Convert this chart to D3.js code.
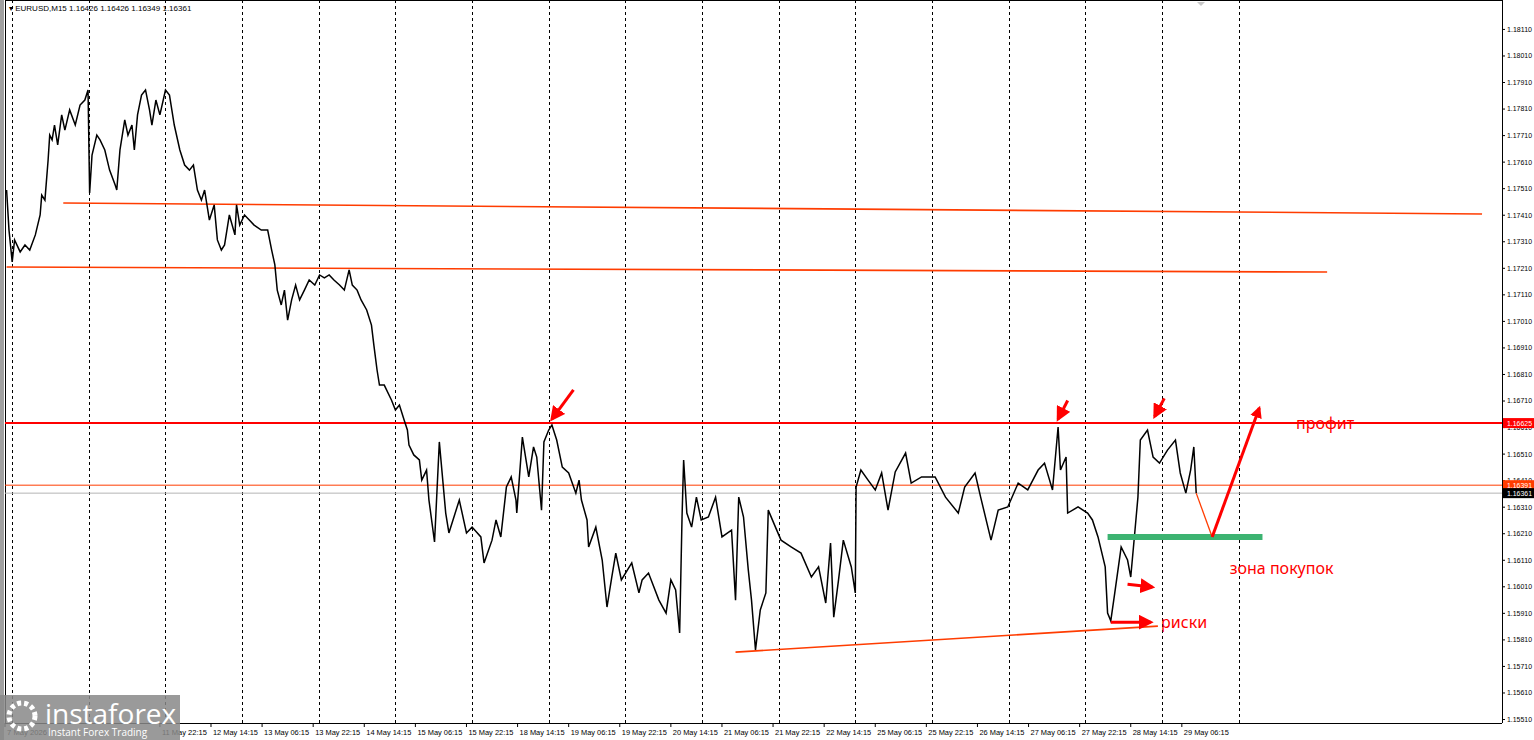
<!DOCTYPE html>
<html><head><meta charset="utf-8">
<script src="https://cdn.jsdelivr.net/npm/d3@7"></script>
<style>body{margin:0;background:#fff}svg{display:block}</style>
</head><body><svg id="c" width="1534" height="740"></svg>
<script>
const bars=[2,5,9,12,19,25,31,38,44,46,50,54,56,59,62,66,71,75,81,88,94,100,104,106,109,115,119,125,131,138,140,144,150,154,159,162,166,171,176,181,184,189,194,201,206,212,219,225,231,236,241,246,250,256,262,266,271,275,281,288,290,294,300,306,312,321,329,334,338,341,346,350,354,359,364,369,375,381,388,394,400,406,412,419,425,431,435,441,446,453,459,462,466,469,475,484,489,494,500,504,506,512,519,522,528,531,538,544,552,556,569,578,585,596,600,610,615,621,628,634,640,641,648,656,662,666,672,675,681,685,691,698,706,715,719,722,729,731,740,748,754,760,765,772,785,794,798,806,819,828,834,840,845,848,850,854,860,866,872,881,890,898,910,915,919,925,931,935,940,946,953,956,965,972,985,997,1010,1019,1028,1034,1038,1044,1050,1060,1065,1066,1072,1081,1090,1098,1106,1115,1128,1135,1148,1165,1178,1194,1202,1215,1222,1235,1244,1256,1269,1281,1294,1302,1312,1319,1322,1329,1331,1344,1356,1362,1369,1378,1381,1385,1390,1398,1406,1410,1415,1419,1422,1431,1438,1446,1456,1466,1472,1479,1485,1489,1492];
const prices=[1.17503,1.17352,1.17232,1.17315,1.17270,1.17296,1.17277,1.17334,1.17409,1.17484,1.17465,1.17616,1.17710,1.17692,1.17748,1.17673,1.17786,1.17729,1.17805,1.17748,1.17823,1.17842,1.17880,1.17492,1.17635,1.17710,1.17692,1.17654,1.17578,1.17522,1.17503,1.17654,1.17767,1.17710,1.17748,1.17654,1.17786,1.17861,1.17880,1.17805,1.17748,1.17842,1.17786,1.17880,1.17861,1.17748,1.17654,1.17597,1.17578,1.17597,1.17503,1.17465,1.17503,1.17390,1.17447,1.17315,1.17277,1.17296,1.17409,1.17334,1.17447,1.17371,1.17409,1.17390,1.17371,1.17352,1.17352,1.17277,1.17221,1.17126,1.17070,1.17126,1.17013,1.17089,1.17145,1.17089,1.17126,1.17164,1.17145,1.17183,1.17172,1.17183,1.17164,1.17145,1.17126,1.17202,1.17145,1.17126,1.17089,1.17051,1.16994,1.16919,1.16825,1.16768,1.16768,1.16712,1.16674,1.16693,1.16636,1.16599,1.16542,1.16505,1.16486,1.16410,1.16448,1.16335,1.16177,1.16554,1.16286,1.16211,1.16335,1.16211,1.16233,1.16196,1.16098,1.16184,1.16260,1.16196,1.16384,1.16422,1.16335,1.16286,1.16572,1.16422,1.16535,1.16497,1.16297,1.16554,1.16599,1.16618,1.16561,1.16459,1.16437,1.16361,1.16410,1.16335,1.16260,1.16158,1.16233,1.16109,1.15932,1.16045,1.16135,1.16034,1.16098,1.15985,1.16034,1.16060,1.15958,1.15909,1.16034,1.15996,1.15834,1.16271,1.16486,1.16286,1.16233,1.16346,1.16260,1.16271,1.16346,1.16196,1.16222,1.15958,1.16346,1.16271,1.16071,1.15958,1.15770,1.15921,1.15985,1.16297,1.16233,1.16184,1.16158,1.16135,1.16045,1.16083,1.15947,1.16173,1.15894,1.16034,1.16184,1.16083,1.15985,1.16384,1.16448,1.16410,1.16373,1.16437,1.16297,1.16441,1.16512,1.16399,1.16422,1.16422,1.16346,1.16286,1.16384,1.16437,1.16346,1.16184,1.16297,1.16309,1.16399,1.16373,1.16448,1.16474,1.16373,1.16610,1.16448,1.16497,1.16286,1.16309,1.16286,1.16260,1.16196,1.16083,1.15909,1.15880,1.15985,1.16158,1.16109,1.16045,1.16211,1.16346,1.16561,1.16599,1.16497,1.16474,1.16523,1.16561,1.16437,1.16361,1.16448,1.16535,1.16361];
const priceTicks=[1.18110,1.18010,1.17910,1.17810,1.17710,1.17610,1.17510,1.17410,1.17310,1.17210,1.17110,1.17010,1.16910,1.16810,1.16710,1.16610,1.16510,1.16410,1.16310,1.16210,1.16110,1.16010,1.15910,1.15810,1.15710,1.15610,1.15510];
const timeLabels=["7 May 2026","11 May 22:15","12 May 14:15","13 May 06:15","13 May 22:15","14 May 14:15","15 May 06:15","15 May 22:15","18 May 14:15","19 May 06:15","19 May 22:15","20 May 14:15","21 May 06:15","21 May 22:15","22 May 14:15","25 May 06:15","25 May 22:15","26 May 14:15","27 May 06:15","27 May 22:15","28 May 14:15","29 May 06:15"];
const timeLabelBars=[0,194,258,322,386,450,514,578,642,706,770,834,898,962,1026,1090,1154,1218,1282,1346,1410,1474];
const gridBars=[9,105,201,297,393,489,585,681,777,873,969,1065,1161,1257,1353,1449,1545];
const trendLines=[{b:[73,1850],p:[1.17454,1.17413]},{b:[2,1656],p:[1.17213,1.17194]},{b:[915,1444],p:[1.15762,1.15860]}];
const profitLevel=1.16625, bidLevel=1.16361, askLevel=1.16391, buyZone={b:[1381,1575],p:1.16196};
const projBars=[1492,1512,1571], projPrices=[1.16361,1.16196,1.16682];
const arrows=[{b:[712,685],p:[1.16750,1.16640]},{b:[1331,1319],p:[1.16710,1.16640]},{b:[1452,1440],p:[1.16718,1.16650]},{b:[1406,1437],p:[1.16018,1.16007]},{b:[1385,1435],p:[1.15875,1.15875]}];
const notes=[{t:"профит",b:1617,p:1.16625},{t:"зона покупок",b:1534,p:1.16080},{t:"риски",b:1448,p:1.15875}];

const svg=d3.select("#c");
const x=d3.scaleLinear().domain([0,1875]).range([5,1502]);
const y=d3.scaleLinear().domain([1.15495,1.18219]).range([723,0]);
const red="#ff0000", orange="#ff3c00";
const F="Liberation Sans, Arial, sans-serif";
svg.append("defs").html('<marker id="ah" viewBox="0 0 10 10" refX="8" refY="5" markerWidth="4" markerHeight="4" orient="auto"><path d="M0,0L10,5L0,10z" fill="#ff0000"/></marker><marker id="ah2" viewBox="0 0 10 10" refX="8" refY="5" markerWidth="5" markerHeight="5" orient="auto"><path d="M0,0L10,5L0,10z" fill="#ff0000"/></marker>');
svg.append("rect").attr("x",0).attr("y",0).attr("width",4).attr("height",740).attr("fill","#a0a0a0");
svg.append("line").attr("x1",5.5).attr("x2",5.5).attr("y1",0).attr("y2",723).attr("stroke","#000");
svg.append("line").attr("x1",5).attr("x2",1502).attr("y1",0.5).attr("y2",0.5).attr("stroke","#000");
svg.selectAll(".g").data(gridBars).join("line").attr("x1",d=>Math.round(x(d))+.5).attr("x2",d=>Math.round(x(d))+.5).attr("y1",0).attr("y2",723).attr("stroke","#000").attr("stroke-dasharray","3,3");
svg.append("line").attr("x1",5).attr("x2",1502).attr("y1",y(askLevel)).attr("y2",y(askLevel)).attr("stroke",orange).attr("stroke-width",1);
svg.append("line").attr("x1",5).attr("x2",1502).attr("y1",y(bidLevel)).attr("y2",y(bidLevel)).attr("stroke","#b4b4b4").attr("stroke-width",1);
svg.append("line").attr("x1",5).attr("x2",1502).attr("y1",y(profitLevel)).attr("y2",y(profitLevel)).attr("stroke",red).attr("stroke-width",2);
trendLines.forEach(t=>svg.append("line").attr("x1",x(t.b[0])).attr("x2",x(t.b[1])).attr("y1",y(t.p[0])).attr("y2",y(t.p[1])).attr("stroke",orange).attr("stroke-width",1.6));
svg.append("path").datum(bars.map((b,i)=>[b,prices[i]])).attr("d",d3.line().x(d=>x(d[0])).y(d=>y(d[1]))).attr("fill","none").attr("stroke","#000").attr("stroke-width",1.5);
svg.append("line").attr("x1",x(buyZone.b[0])).attr("x2",x(buyZone.b[1])).attr("y1",y(buyZone.p)).attr("y2",y(buyZone.p)).attr("stroke","#3cb371").attr("stroke-width",6);
svg.append("line").attr("x1",x(projBars[0])).attr("y1",y(projPrices[0])).attr("x2",x(projBars[1])).attr("y2",y(projPrices[1])).attr("stroke",orange).attr("stroke-width",1.3);
svg.append("line").attr("x1",x(projBars[1])).attr("y1",y(projPrices[1])).attr("x2",x(projBars[2])).attr("y2",y(projPrices[2])).attr("stroke",red).attr("stroke-width",3).attr("marker-end","url(#ah)");
arrows.forEach(a=>svg.append("line").attr("x1",x(a.b[0])).attr("y1",y(a.p[0])).attr("x2",x(a.b[1])).attr("y2",y(a.p[1])).attr("stroke",red).attr("stroke-width",3).attr("marker-end","url(#ah2)"));
notes.forEach(n=>svg.append("text").attr("x",x(n.b)).attr("y",y(n.p)+6).attr("fill",red).attr("font-family","Noto Sans, DejaVu Sans").attr("font-size",16).text(n.t));
svg.append("text").attr("x",9).attr("y",11).attr("font-family",F).attr("font-size",8).text("▾ EURUSD,M15  1.16426 1.16426 1.16349 1.16361");
svg.append("path").attr("d","M1197,2L1205,2L1201,6z").attr("fill","#c8c8c8");
const ax=svg.append("g").attr("transform","translate(1502,0)").call(d3.axisRight(y).tickValues(priceTicks).tickFormat(d3.format(".5f")).tickSize(3));
ax.select(".domain").attr("d","M0.5,0V723");
ax.selectAll("text").attr("font-family",F).attr("font-size",7.5).attr("x",5).attr("textLength",25).attr("lengthAdjust","spacingAndGlyphs");
[[profitLevel,red],[askLevel,orange],[bidLevel,"#000"]].forEach(([p,bg])=>{
 svg.append("rect").attr("x",1503).attr("y",y(p)-5).attr("width",31).attr("height",10).attr("fill",bg);
 svg.append("text").attr("x",1507).attr("y",y(p)+3).attr("fill","#fff").attr("font-family",F).attr("font-size",7.5).attr("textLength",25).attr("lengthAdjust","spacingAndGlyphs").text(p.toFixed(5));
});
svg.append("line").attr("x1",5).attr("x2",1502).attr("y1",723.5).attr("y2",723.5).attr("stroke","#000");
const bx=svg.append("g");
timeLabelBars.forEach((b,i)=>{
 bx.append("line").attr("x1",x(b)).attr("x2",x(b)).attr("y1",723).attr("y2",727).attr("stroke","#000");
 bx.append("text").attr("x",x(b)+2).attr("y",735).attr("font-family",F).attr("font-size",8).attr("textLength",i?45:40).attr("lengthAdjust","spacingAndGlyphs").text(timeLabels[i]);
});
const w=svg.append("g");
w.append("rect").attr("x",0).attr("y",695).attr("width",180).attr("height",45).attr("fill","#888").attr("opacity",0.85);
w.append("circle").attr("cx",22).attr("cy",716).attr("r",13).attr("fill","none").attr("stroke","#fff").attr("stroke-width",5).attr("stroke-dasharray","4,3");
w.append("text").attr("x",45).attr("y",724).attr("fill","#fff").attr("font-family","Open Sans").attr("font-size",28).text("instaforex");
w.append("text").attr("x",48).attr("y",736).attr("fill","#fff").attr("font-family","Open Sans").attr("font-size",10).text("Instant Forex Trading");
</script></body></html>
